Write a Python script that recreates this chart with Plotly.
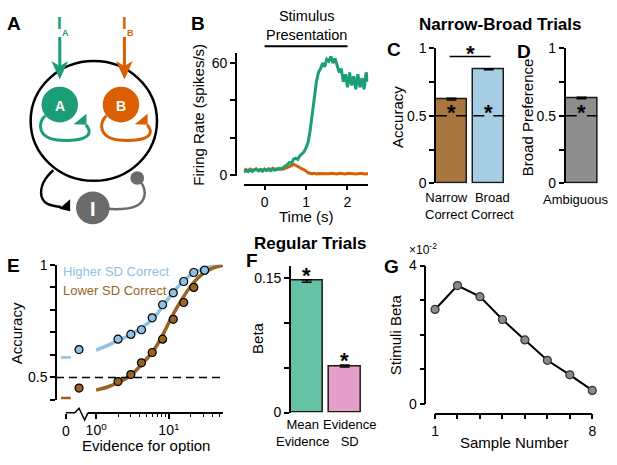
import plotly.graph_objects as go

W, H = 617, 465
FONT = "Liberation Sans, Arial, Helvetica, sans-serif"

GREEN = "#1b9e77"
ORANGE = "#d95f02"
GREY_I = "#6b6b6b"
BROWN_BAR = "#a8773f"
BLUE_BAR = "#a6cde3"
GREY_BAR = "#8e8e8e"
BLUE_E = "#8fc1e2"
BROWN_E = "#9a6326"
GREEN_F = "#66c2a5"
PINK_F = "#e5a0c9"

# ---- B: mean firing rate of pool A (green) and pool B (orange), spikes/s ----
time_s = [round(-0.5 + 0.05 * k, 2) for k in range(61)]
rate_a = [1.5, 2.5, 1.8, 2.8, 1.9, 2.6, 3.2, 2.2, 2.9, 2.0,
          3.1, 2.4, 2.9, 2.3, 3.3, 2.6, 3.0, 3.6, 3.2, 4.2,
          4.8, 5.6, 6.8, 6.2, 8.5, 9.0, 8.4, 10.3, 11.2, 12.5,
          14.5, 17.5, 24.0, 32.0, 42.0, 50.0, 55.0, 57.0, 60.0, 58.0,
          62.0, 61.0, 63.5, 60.0, 62.5, 58.0, 55.0, 57.0, 50.0, 54.0,
          47.0, 55.0, 48.0, 53.0, 46.0, 54.0, 47.0, 52.0, 46.0, 55.0, 50.0]
rate_b = [2.0, 3.0, 2.2, 3.2, 2.5, 2.8, 3.3, 2.4, 3.0, 2.6,
          3.2, 2.7, 3.4, 2.9, 3.6, 3.0, 3.3, 3.0, 3.5, 3.2,
          3.6, 3.8, 4.2, 5.0, 5.8, 5.2, 4.4, 3.8, 3.4, 3.0,
          2.2, 1.2, 0.8, 0.7, 0.9, 0.6, 0.8, 0.7, 0.9, 0.6,
          0.8, 0.7, 0.9, 0.7, 0.8, 0.6, 0.9, 0.7, 0.8, 0.6,
          0.9, 0.7, 0.8, 0.7, 0.6, 0.8, 0.7, 0.9, 0.6, 0.8, 0.7]
stim_window = [0, 2]

# ---- C / D: narrow-broad trials ----
c_labels = ["Narrow Correct", "Broad Correct"]
c_accuracy = [0.624, 0.845]
c_sem = [0.006, 0.004]
d_labels = ["Ambiguous"]
d_pref = [0.632]
d_sem = [0.006]
chance = 0.5

# ---- E: accuracy vs evidence ----
zero_evidence = [0]
evidence = [2, 3, 4.2, 5.9, 8.2, 11.5, 16, 22, 31]
acc_higher = [0.670, 0.691, 0.712, 0.765, 0.823, 0.876, 0.926, 0.966, 0.976]
acc_lower = [0.482, 0.513, 0.565, 0.611, 0.670, 0.758, 0.833, 0.900, 0.976]
zero_acc_higher = [0.624]
zero_acc_lower = [0.453]
fit_evidence = [1, 1.5, 2, 3, 4, 6, 8, 11, 15, 20, 28, 40, 55]
fit_higher = [0.622, 0.645, 0.665, 0.69, 0.715, 0.76, 0.81, 0.87, 0.92, 0.955, 0.98, 0.995, 1.0]
fit_lower = [0.444, 0.46, 0.478, 0.51, 0.55, 0.615, 0.68, 0.77, 0.845, 0.905, 0.955, 0.985, 0.998]
zero_fit_higher = [0.589]
zero_fit_lower = [0.409]

# ---- F: regression betas ----
f_labels = ["Mean Evidence", "Evidence SD"]
f_beta = [0.147, 0.052]
f_sem = [0.0015, 0.0012]

# ---- G: stimulus beta per sample ----
sample_number = [1, 2, 3, 4, 5, 6, 7, 8]
stim_beta = [0.0273, 0.0342, 0.0310, 0.0244, 0.0185, 0.0126, 0.0084, 0.0039]


def fx(x):
    return x / W


def fy(y):
    return 1 - y / H


def dx(a, b):
    return [fx(a), fx(b)]


def dy(top, bottom):
    return [fy(bottom), fy(top)]


def axis(**kw):
    base = dict(showline=True, linecolor="black", linewidth=1.5, ticks="outside",
                ticklen=5, tickwidth=1.5, tickcolor="black", showgrid=False,
                zeroline=False, tickfont=dict(size=14, color="black"), fixedrange=True)
    base.update(kw)
    return base


def hidden(**kw):
    base = dict(visible=False, fixedrange=True, showgrid=False, zeroline=False)
    base.update(kw)
    return base


def path(*segs):
    out = []
    for cmd, *pts in segs:
        out.append(cmd + " ".join(f"{fx(x):.5f},{fy(y):.5f}" for x, y in pts))
    return " ".join(out)


fig = go.Figure()

# B
fig.add_trace(go.Scatter(x=time_s, y=rate_b, mode="lines", line=dict(color=ORANGE, width=3),
                         xaxis="x", yaxis="y"))
fig.add_trace(go.Scatter(x=time_s, y=rate_a, mode="lines", line=dict(color=GREEN, width=3),
                         xaxis="x", yaxis="y"))

# C
fig.add_trace(go.Bar(x=list(range(len(c_labels))), y=c_accuracy, width=0.83,
                     marker=dict(color=[BROWN_BAR, BLUE_BAR], line=dict(color="#1a1a1a", width=1.5)),
                     error_y=dict(type="data", array=c_sem, color="black", thickness=1.5, width=5),
                     xaxis="x2", yaxis="y2"))
# D
fig.add_trace(go.Bar(x=list(range(len(d_labels))), y=d_pref, width=0.99,
                     marker=dict(color=GREY_BAR, line=dict(color="#1a1a1a", width=1.5)),
                     error_y=dict(type="data", array=d_sem, color="black", thickness=1.5, width=5),
                     xaxis="x3", yaxis="y3"))

# E
fig.add_trace(go.Scatter(x=zero_evidence, y=zero_fit_higher, mode="markers", cliponaxis=False,
                         marker=dict(symbol="line-ew", size=7, line=dict(color=BLUE_E, width=2.5)),
                         xaxis="x5", yaxis="y4"))
fig.add_trace(go.Scatter(x=zero_evidence, y=zero_fit_lower, mode="markers", cliponaxis=False,
                         marker=dict(symbol="line-ew", size=7, line=dict(color=BROWN_E, width=2.5)),
                         xaxis="x5", yaxis="y4"))
fig.add_trace(go.Scatter(x=fit_evidence, y=fit_higher, mode="lines", line=dict(color=BLUE_E, width=3.5, shape="spline"),
                         xaxis="x4", yaxis="y4"))
fig.add_trace(go.Scatter(x=fit_evidence, y=fit_lower, mode="lines", line=dict(color=BROWN_E, width=3.5, shape="spline"),
                         xaxis="x4", yaxis="y4"))
fig.add_trace(go.Scatter(x=evidence, y=acc_lower, mode="markers", cliponaxis=False,
                         marker=dict(size=8, color=BROWN_E, line=dict(color="black", width=1.2)),
                         xaxis="x4", yaxis="y4"))
fig.add_trace(go.Scatter(x=evidence, y=acc_higher, mode="markers", cliponaxis=False,
                         marker=dict(size=8, color=BLUE_E, line=dict(color="black", width=1.2)),
                         xaxis="x4", yaxis="y4"))
fig.add_trace(go.Scatter(x=zero_evidence * 2, y=zero_acc_higher + zero_acc_lower, mode="markers", cliponaxis=False,
                         marker=dict(size=8, color=[BLUE_E, BROWN_E], line=dict(color="black", width=1.2)),
                         xaxis="x6", yaxis="y4"))

# F
fig.add_trace(go.Bar(x=list(range(len(f_labels))), y=f_beta, width=0.83,
                     marker=dict(color=[GREEN_F, PINK_F], line=dict(color="#1a1a1a", width=1.5)),
                     error_y=dict(type="data", array=f_sem, color="black", thickness=1.5, width=5),
                     xaxis="x7", yaxis="y7"))

# G
fig.add_trace(go.Scatter(x=sample_number, y=stim_beta, mode="lines+markers", cliponaxis=False,
                         line=dict(color="black", width=2),
                         marker=dict(size=8, color="#8a8a8a", line=dict(color="#333333", width=1.2)),
                         xaxis="x8", yaxis="y8"))

shapes = []
# --- panel A diagram (pixel positions converted to paper) ---
shapes.append(dict(type="circle", xref="paper", yref="paper", x0=fx(27), x1=fx(155), y0=fy(179), y1=fy(55),
                   line=dict(color="black", width=2.5)))
for cx, col in [(56.5, GREEN), (118.5, ORANGE)]:
    ax = cx + (0 if col == GREEN else 3.5)
    shapes.append(dict(type="line", xref="paper", yref="paper", x0=fx(ax), x1=fx(ax), y0=fy(30), y1=fy(62),
                       line=dict(color=col, width=3)))
    shapes.append(dict(type="path", xref="paper", yref="paper", fillcolor=col, line=dict(width=0),
                       path=path(("M", (ax - 8.5, 55)), ("L", (ax, 60)), ("L", (ax + 8.5, 55)),
                                 ("L", (ax, 74))) + " Z"))
    shapes.append(dict(type="circle", xref="paper", yref="paper", x0=fx(cx - 18.5), x1=fx(cx + 18.5),
                       y0=fy(118.5), y1=fy(81.5), fillcolor=col, line=dict(width=0)))
    o = cx - 56.5
    shapes.append(dict(type="path", xref="paper", yref="paper", line=dict(color=col, width=3),
                       path=path(("M", (41.7 + o, 111.7)), ("C", (34 + o, 118), (33 + o, 136), (58 + o, 137)),
                                 ("C", (80 + o, 138), (88 + o, 133), (86 + o, 126)),
                                 ("C", (85 + o, 123), (84 + o, 122), (83 + o, 121)))))
    shapes.append(dict(type="path", xref="paper", yref="paper", fillcolor=col, line=dict(width=0),
                       path=path(("M", (83.5 + o, 109.5)), ("L", (83.5 + o, 121)), ("L", (70.5 + o, 120.5))) + " Z"))
shapes.append(dict(type="path", xref="paper", yref="paper", line=dict(color="black", width=2.5),
                   path=path(("M", (50, 168)), ("C", (42, 175), (36, 185), (38, 195)),
                             ("C", (40, 203), (47, 205), (58, 206)))))
shapes.append(dict(type="path", xref="paper", yref="paper", fillcolor="black", line=dict(width=0),
                   path=path(("M", (67, 198)), ("L", (67, 210.5)), ("L", (56, 208))) + " Z"))
shapes.append(dict(type="path", xref="paper", yref="paper", line=dict(color=GREY_I, width=2.5),
                   path=path(("M", (105, 208)), ("C", (120, 209), (135, 208), (140, 200)),
                             ("C", (145, 192), (142, 183), (136, 178)))))
shapes.append(dict(type="circle", xref="paper", yref="paper", x0=fx(73), x1=fx(107), y0=fy(224), y1=fy(190),
                   fillcolor=GREY_I, line=dict(width=0)))
shapes.append(dict(type="circle", xref="paper", yref="paper", x0=fx(128), x1=fx(142), y0=fy(183), y1=fy(169),
                   fillcolor=GREY_I, line=dict(width=0)))

# --- B stimulus bar ---
shapes.append(dict(type="line", xref="x", yref="paper", x0=stim_window[0], x1=stim_window[1],
                   y0=fy(39.5), y1=fy(39.5), line=dict(color="black", width=2)))
# --- C significance bar and chance lines ---
shapes.append(dict(type="line", xref="x2", yref="y2", x0=-0.05, x1=1.05, y0=0.94, y1=0.94,
                   line=dict(color="black", width=1.5)))
for i in range(len(c_labels)):
    shapes.append(dict(type="line", xref="x2", yref="y2", x0=i - 0.415, x1=i + 0.415, y0=chance, y1=chance,
                       line=dict(color="black", width=1.5, dash="11px,9px")))
for i in range(len(d_labels)):
    shapes.append(dict(type="line", xref="x3", yref="y3", x0=i - 0.495, x1=i + 0.495, y0=chance, y1=chance,
                       line=dict(color="black", width=1.5, dash="11px,10px")))
# --- E chance line and broken x axis ---
shapes.append(dict(type="line", xref="paper", yref="y4", x0=fx(52.7), x1=fx(222), y0=chance, y1=chance,
                   line=dict(color="black", width=1.5, dash="8px,5px")))
shapes.append(dict(type="path", xref="paper", yref="paper", line=dict(color="black", width=1.5),
                   path=path(("M", (62.7, 419.3)), ("L", (71.7, 419.3)), ("L", (76, 414.5)),
                             ("L", (81.7, 426.7)), ("L", (85, 419.3)))))

ann = []


def text(x, y, s, size=15, color="black", bold=False, angle=0, xanchor="center", xref="paper", yref="paper",
         yanchor="middle", yshift=0, xshift=0):
    ann.append(dict(x=x if xref != "paper" else fx(x), y=y if yref != "paper" else fy(y),
                    xref=xref, yref=yref, text=f"<b>{s}</b>" if bold else s, showarrow=False,
                    font=dict(size=size, color=color, family=FONT), textangle=angle,
                    xanchor=xanchor, yanchor=yanchor, yshift=yshift, xshift=xshift))


for lab, x, y in [("A", 10, 16), ("B", 197, 16), ("C", 395, 43), ("D", 527, 45),
                  ("E", 10, 267), ("F", 251, 262), ("G", 393, 268)]:
    text(x, y, lab, size=19, bold=True)

text(503, 17, "Narrow-Broad Trials", size=17, bold=True)
text(310, 244, "Regular Trials", size=17, bold=True)

# panel A labels
text(56.5, 101, "A", size=14, color="white", bold=True)
text(118.5, 101, "B", size=14, color="white", bold=True)
text(90, 208, "I", size=20, color="white", bold=True)
text(56.5, 16, "I", size=17, color=GREEN, bold=True)
text(62.5, 26, "A", size=9, color=GREEN, bold=True)
text(122, 16, "I", size=17, color=ORANGE, bold=True)
text(128, 26, "B", size=9, color=ORANGE, bold=True)

# B
text(1, 18.5, "Stimulus<br>Presentation", size=14.5, xref="x")
text(197, 110, "Firing Rate (spikes/s)", angle=-90)
text(306, 215.5, "Time (s)")

# C / D
text(398, 113, "Accuracy", angle=-90)
text(530, 113, "Broad Preference", angle=-90)
for i, lab in enumerate(c_labels):
    text(i, 205, lab.replace(" ", "<br>"), size=13, xref="x2", xshift=-5 if i == 0 else 4)
    text(i, chance, "<b>*</b>", size=22, xref="x2", yref="y2", yshift=3)
text(0.5, 0.94, "<b>*</b>", size=22, xref="x2", yref="y2", yshift=3)
for i, lab in enumerate(d_labels):
    text(i, 198, lab, size=13, xref="x3", xshift=-6)
    text(i, chance, "<b>*</b>", size=22, xref="x3", yref="y3", yshift=3)

# E
text(13, 337, "Accuracy", angle=-90)
text(144, 453, "Evidence for option")
text(58, 273, "Higher SD Correct", size=13, color=BLUE_E, xanchor="left")
text(58, 292.7, "Lower SD Correct", size=13, color=BROWN_E, xanchor="left")

# F
text(257, 342, "Beta", angle=-90)
for i, lab in enumerate(f_labels):
    text(i, 440.5, lab.replace(" ", "<br>"), size=13, xref="x7", xshift=-4 if i == 0 else 5)
    text(i, f_beta[i], "<b>*</b>", size=22, xref="x7", yref="y7", yshift=6)

# G
text(397, 338, "Stimuli Beta", angle=-90)
text(517, 450, "Sample Number")
text(425, 249.5, "\u00d710<sup>-2</sup>", size=12)

fig.update_layout(
    width=W, height=H, margin=dict(l=0, r=0, t=0, b=0),
    paper_bgcolor="white", plot_bgcolor="rgba(0,0,0,0)",
    font=dict(family=FONT, color="black"),
    showlegend=False, bargap=0,
    shapes=shapes, annotations=ann,
    # B
    xaxis=axis(domain=dx(243, 369), range=[-0.5, 2.5], anchor="free", position=fy(183),
               tickvals=[0, 1, 2]),
    yaxis=axis(domain=dy(47, 174), range=[-0.52, 65.2], anchor="free", position=fx(235),
               tickvals=[0, 20, 40, 60], ticktext=["0", "", "", "60"]),
    # C
    xaxis2=hidden(domain=dx(437.7, 510), range=[-0.415, 1.5], anchor="y2"),
    yaxis2=axis(domain=dy(41.7, 181.7), range=[0, 1], anchor="x2",
                tickvals=[0, 0.25, 0.5, 0.75, 1], ticktext=["0", "", "0.5", "", "1"]),
    # D
    xaxis3=hidden(domain=dx(569, 606), range=[-0.5, 0.65], anchor="y3"),
    yaxis3=axis(domain=dy(41.7, 181.7), range=[0, 1], anchor="x3",
                tickvals=[0, 0.25, 0.5, 0.75, 1], ticktext=["0", "", "0.5", "", "1"]),
    # E
    xaxis4=axis(type="log", domain=dx(85, 222), range=[-0.113, 1.746], anchor="free", position=fy(419.3),
                tickvals=[1, 10], ticktext=["10<sup>0</sup>", "10<sup>1</sup>"],
                minor=dict(tickvals=[2, 3, 4, 5, 6, 7, 8, 9, 20, 30, 40, 50], ticks="outside",
                           ticklen=3.5, tickwidth=1.2, tickcolor="black", showgrid=False)),
    yaxis4=axis(domain=dy(266, 406), range=[0.4, 1.0], anchor="free", position=fx(52.7),
                tickvals=[0.4, 0.5, 0.6, 0.7, 0.8, 0.9, 1.0], ticktext=["", "0.5", "", "", "", "", "1"]),
    xaxis5=axis(domain=dx(50, 85), range=[-0.5, 0.878], anchor="free", position=fy(419.3),
                showline=False, tickvals=[0], ticktext=["0"]),
    xaxis6=hidden(domain=dx(63.3, 88.7), range=[-0.5, 0.5], anchor="free", position=fy(419.3)),
    # F
    xaxis7=hidden(domain=dx(290.7, 364.4), range=[-0.415, 1.5], anchor="y7"),
    yaxis7=axis(domain=dy(266.7, 419), range=[0, 0.1643], anchor="x7",
                tickvals=[0, 0.05, 0.1, 0.15], ticktext=["0", "", "", "0.15"]),
    # G
    xaxis8=axis(domain=dx(436.7, 596), range=[1, 8], anchor="free", position=fy(420),
                tickvals=sample_number, ticktext=["1", "", "", "", "", "", "", "8"]),
    yaxis8=axis(domain=dy(266.7, 410), range=[0, 0.04], anchor="free", position=fx(427),
                tickvals=[0, 0.01, 0.02, 0.03, 0.04], ticktext=["0", "", "", "", "4"]),
)

# pin the figure to the top-left corner of the page (no default body margin)
pin = ("document.body.style.margin='0px';"
       "var d=document.getElementById('{plot_id}');"
       "d.style.position='absolute';d.style.left='0px';d.style.top='0px';")
fig.write_html("out.html", post_script=pin, config={"displayModeBar": False})
